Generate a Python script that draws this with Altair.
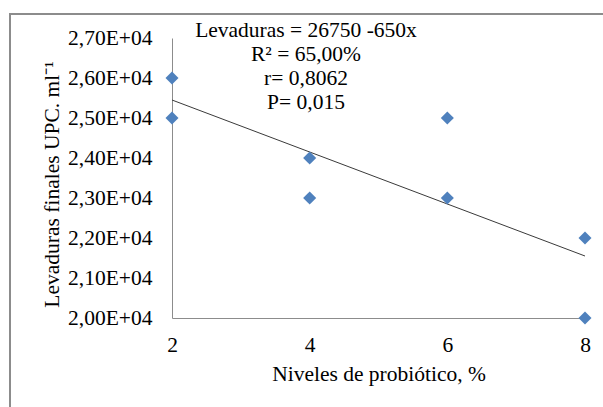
import altair as alt
import pandas as pd

# Data
niveles = [2, 2, 4, 4, 6, 6, 8, 8]
levaduras = [26000, 25000, 24000, 23000, 25000, 23000, 22000, 20000]

y_ticks = [20000, 21000, 22000, 23000, 24000, 25000, 26000, 27000]
x_ticks = [2, 4, 6, 8]

annot_lines = ["Levaduras = 26750 -650x", "R² = 65,00%", "r= 0,8062", "P= 0,015"]

df = pd.DataFrame({"x": niveles, "y": levaduras})

FONT = "Liberation Serif"
FS = 21.5

y_label_expr = "replace(format(datum.value / 10000, '.2f'), '.', ',') + 'E+04'"

x_axis = alt.Axis(
    values=x_ticks,
    format="d",
    labelOverlap=False,
    title="Niveles de probiótico, %",
    grid=False,
    ticks=False,
    domainColor="#8c8c8c",
    labelFont=FONT,
    labelFontSize=FS,
    labelColor="#000000",
    labelPadding=16,
    labelFlush=False,
    titleFont=FONT,
    titleFontSize=FS,
    titleFontWeight="normal",
    titleColor="#000000",
    titleBaseline="alphabetic",
    titleY=62,
)

y_axis = alt.Axis(
    values=y_ticks,
    labelExpr=y_label_expr,
    labelOverlap=False,
    labelBound=False,
    title="Levaduras finales UPC. ml⁻¹",
    grid=False,
    ticks=False,
    domainColor="#8c8c8c",
    labelFont=FONT,
    labelFontSize=FS,
    labelColor="#000000",
    labelPadding=20,
    labelFlush=False,
    titleFont=FONT,
    titleFontSize=FS,
    titleFontWeight="normal",
    titleColor="#000000",
    titleAngle=-90,
    titleBaseline="alphabetic",
    titleX=-114,
    titleY=146,
    titleAlign="center",
)

x_scale = alt.Scale(domain=[2, 8], nice=False, zero=False)
y_scale = alt.Scale(domain=[20000, 27000], nice=False, zero=False)

base = alt.Chart(df)

points = base.mark_point(
    shape="diamond", filled=True, size=170, color="#4F81BD", opacity=1, clip=False
).encode(
    x=alt.X("x:Q", scale=x_scale, axis=x_axis),
    y=alt.Y("y:Q", scale=y_scale, axis=y_axis),
)

trend = base.transform_regression("x", "y", method="linear", extent=[2, 8]).mark_line(
    color="#3a3a3a", strokeWidth=1
).encode(
    x=alt.X("x:Q", scale=x_scale, axis=x_axis),
    y=alt.Y("y:Q", scale=y_scale, axis=y_axis),
)

annot = alt.Chart(pd.DataFrame({"a": [0]})).mark_text(
    text=annot_lines,
    font=FONT,
    fontSize=FS,
    color="#000000",
    align="center",
    baseline="alphabetic",
    lineHeight=24.3,
).encode(x=alt.value(134), y=alt.value(-1.5))

border_top = alt.Chart(pd.DataFrame({"a": [0]})).mark_rule(
    color="#8c8c8c", strokeWidth=2
).encode(x=alt.value(-163), x2=alt.value(440), y=alt.value(-24))

border_left = alt.Chart(pd.DataFrame({"a": [0]})).mark_rule(
    color="#8c8c8c", strokeWidth=2
).encode(x=alt.value(-162), y=alt.value(-25), y2=alt.value(380))

chart = alt.layer(border_top, border_left, trend, points, annot).properties(
    width=413,
    height=280,
    autosize=alt.AutoSizeParams(type="none"),
    padding={"left": 172, "top": 38, "right": 18, "bottom": 89},
    background="#ffffff",
).configure_view(stroke=None)

chart.save("out.html", embed_options={"renderer": "svg", "actions": False})
